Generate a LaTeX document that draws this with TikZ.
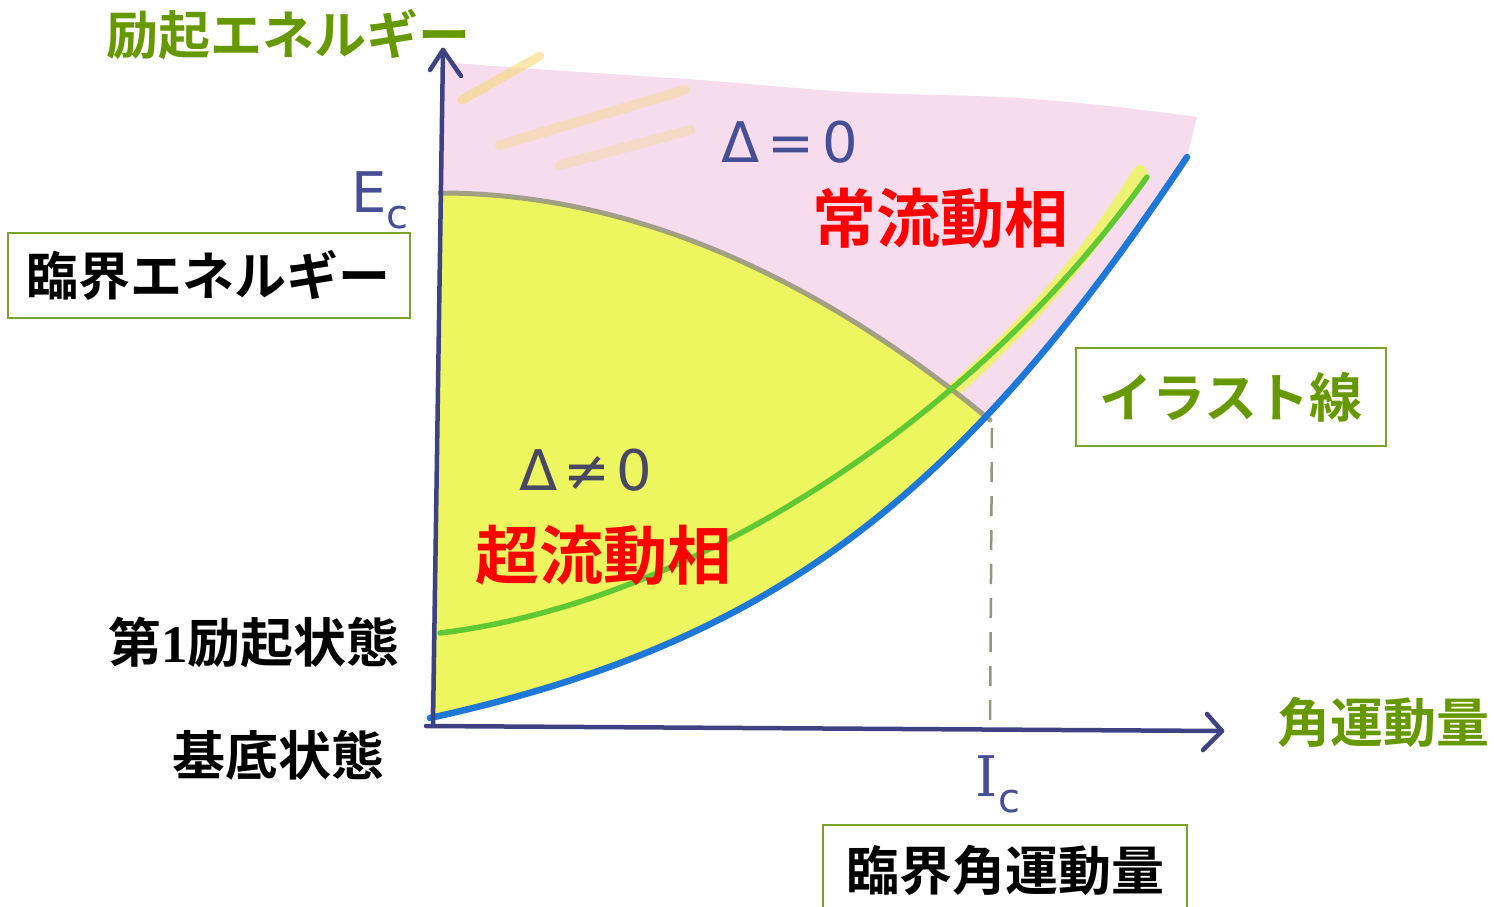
\documentclass[tikz,border=0pt]{standalone}
\usepackage{fontspec}
\newfontfamily\jpfont{Noto Sans CJK JP}[BoldFont={Noto Sans CJK JP Bold}]
\newfontfamily\djfont{DejaVu Sans}
\newfontfamily\djsfont{DejaVu Serif}
\newfontfamily\tnrfont{Liberation Serif}
\definecolor{lbl}{RGB}{102,153,0}
\definecolor{boxg}{RGB}{120,165,40}
\definecolor{axisc}{RGB}{62,66,130}
\definecolor{bluec}{RGB}{30,120,215}
\definecolor{greenc}{RGB}{95,200,50}
\definecolor{grayc}{RGB}{150,148,125}
\definecolor{pinkc}{RGB}{246,220,236}
\definecolor{yelc}{RGB}{237,245,95}
\definecolor{orc}{RGB}{245,215,120}
\definecolor{hand}{RGB}{70,78,150}
\tikzset{
  axisline/.style={axisc, line width=4.5pt, line cap=round, line join=round},
  lblbox/.style={draw=boxg, line width=2pt, inner sep=0pt, minimum height=85pt},
  jpbig/.style={font={\jpfont\bfseries\fontsize{53}{60}\selectfont}},
  jpmid/.style={font={\jpfont\bfseries\fontsize{52}{60}\selectfont}},
  phase/.style={text=red, font={\jpfont\bfseries\fontsize{64}{70}\selectfont}},
  handtxt/.style={text=hand, font={\djfont\fontsize{56}{60}\selectfont}},
}
\begin{document}
\begin{tikzpicture}[x=1pt,y=-1pt]
\useasboundingbox (0,0) rectangle (1494,907);
% pink normal-fluid region
\fill[pinkc] plot[smooth] coordinates {(443,62) (520,68) (700,80) (850,92) (1000,97) (1100,105) (1197,117)}
  -- (1187,157) .. controls (956,504) and (767,644) .. (430,718) -- cycle;
% orange-yellow strokes in upper left
\draw[orc, line width=9pt, opacity=0.6, line cap=round] (462,100) -- (540,56);
\draw[orc, line width=10pt, opacity=0.4, line cap=round] (500,145) -- (685,90);
\draw[orc, line width=10pt, opacity=0.3, line cap=round] (560,165) -- (690,130);
% yellow superfluid region
\begin{scope}
\clip (440,193) .. controls (623,193) and (807,269) .. (990,420) -- (1110,519) -- (1110,800) -- (400,800) -- (400,193) -- cycle;
\fill[yelc] (432,718) .. controls (767,644) and (956,504) .. (1187,157) -- (1187,100) -- (440,100) -- cycle;
\end{scope}
% yellow band along the first excited line
\draw[yelc, line width=14pt, opacity=0.85, line cap=round] (945,398) .. controls (1010,340) and (1080,270) .. (1140,172);
% dashed line
\coordinate (dtop) at (992,428);
\coordinate (dbot) at (990,726);
\draw[grayc, line width=2.5pt, dash pattern=on 20pt off 14pt] (dtop) -- (dbot);
% critical energy curve
\coordinate (g0) at (440,193);
\coordinate (g1) at (990,420);
\draw[grayc, line width=5pt, opacity=0.85, line cap=round] (g0) .. controls (623,193) and (807,269) .. (g1);
% first excited state
\coordinate (e0) at (440,633);
\coordinate (e1) at (1147,177);
\draw[greenc, line width=5.5pt, line cap=round] (e0) .. controls (690,603) and (973,421) .. (e1);
% yrast line
\coordinate (b0) at (430,718);
\coordinate (b1) at (1187,157);
\draw[bluec, line width=6.5pt, line cap=round] (b0) .. controls (767,644) and (956,504) .. (b1);
% axes
\coordinate (ybot) at (433,724);
\coordinate (ytop) at (443,50);
\coordinate (xl) at (426,726);
\coordinate (xr) at (1222,731);
\draw[axisline] (ybot) -- (ytop);
\draw[axisline] (430,70) -- (ytop) -- (461,76);
\draw[axisline] (xl) -- (xr);
\draw[axisline] (1207,714) -- (xr) -- (1203,750);
% hand-written labels
\node[handtxt] (ec) at (380,200) {E\raisebox{-16pt}{\fontsize{40}{44}\selectfont c}};
\node[handtxt] (ic) at (998,784) {{\djsfont I}\raisebox{-16pt}{\fontsize{40}{44}\selectfont c}};
\node[handtxt] (d0) at (790,142) {Δ\hspace{8pt}=\hspace{8pt}0};
\node[handtxt, text={rgb,255:red,72;green,72;blue,100}] (dn) at (586,470) {Δ\hspace{6pt}≠\hspace{6pt}0};
% phase names
\node[phase] (normal) at (940,218) {常流動相};
\node[phase] (super) at (603,555) {超流動相};
% axis titles
\node[jpmid, text=lbl] (ytitle) at (288,35) {励起エネルギー};
\node[jpbig, text=lbl] (xtitle) at (1383,722) {角運動量};
% black labels
\node[jpbig] (first) at (254,642) {第{\tnrfont\bfseries 1}励起状態};
\node[jpbig] (ground) at (278,755) {基底状態};
% boxed labels
\node[lblbox, jpmid, minimum width=402pt] (ecbox) at (209,275) {臨界エネルギー};
\node[lblbox, jpbig, text=lbl, minimum width=310pt, minimum height=98pt] (yrast) at (1231,397) {イラスト線};
\node[lblbox, jpbig, minimum width=364pt, minimum height=90pt] (icbox) at (1005,870) {臨界角運動量};
\end{tikzpicture}
\end{document}
